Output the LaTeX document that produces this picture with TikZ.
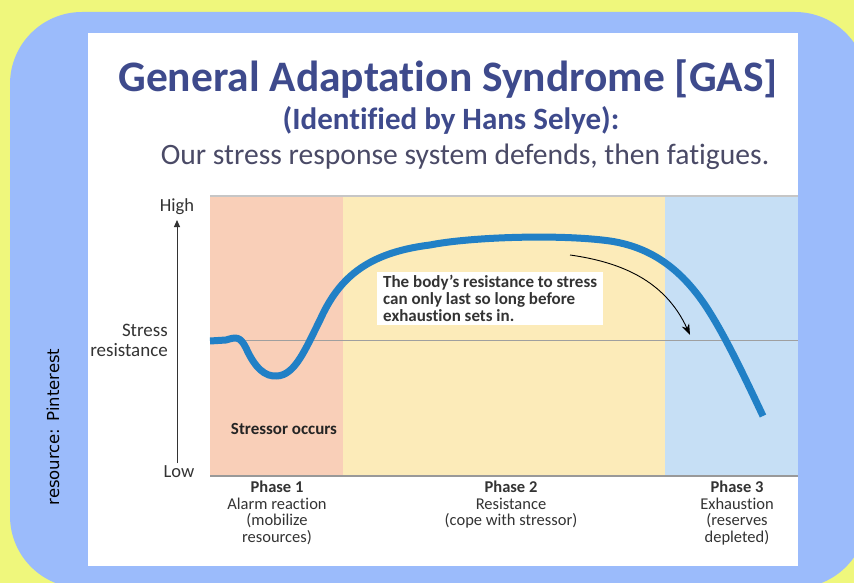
\documentclass[tikz,border=0pt]{standalone}
\usepackage{fontspec}
\setmainfont{Carlito}[Ligatures={NoCommon}]
\newfontfamily\srcfont{DejaVu Sans}
\usetikzlibrary{arrows.meta}
\definecolor{bgyellow}{HTML}{EFF77C}
\definecolor{bgblue}{HTML}{9BBBFB}
\definecolor{phpink}{HTML}{F9CFB8}
\definecolor{phyellow}{HTML}{FCEBB9}
\definecolor{phblue}{HTML}{C6DFF5}
\definecolor{curveblue}{HTML}{2180C6}
\definecolor{titleblue}{HTML}{3E4A8C}
\definecolor{subgray}{HTML}{4A4A66}
\definecolor{txtgray}{HTML}{333333}
\tikzset{
  title/.style={font=\bfseries\fontsize{43.5}{46}\selectfont, text=titleblue, inner sep=0pt},
  subtitle/.style={font=\bfseries\fontsize{31}{33}\selectfont, text=titleblue, inner sep=0pt},
  tagline/.style={font=\fontsize{29.6}{31}\selectfont, text=subgray, inner sep=0pt},
  axislbl/.style={font=\fontsize{18.5}{20}\selectfont, text=txtgray, inner sep=0pt},
  phaselbl/.style={font=\fontsize{16.5}{16.6}\selectfont, text=txtgray, align=center, inner sep=0pt, anchor=north},
  notebox/.style={fill=white, font=\bfseries\fontsize{17}{17}\selectfont, text=txtgray, align=left, inner xsep=6pt, inner ysep=3pt},
}
\begin{document}
\begin{tikzpicture}[x=1pt,y=-1pt]
\useasboundingbox (0,0) rectangle (854,583);
\clip (0,0) rectangle (854,583);
\fill[bgyellow] (0,0) rectangle (854,583);
\fill[bgblue, rounded corners=72pt] (10,12) rectangle (867,588);
\fill[white] (88,33) rectangle (798,566);
% phases
\fill[phpink] (210,196) rectangle (343,476);
\fill[phyellow] (343,196) rectangle (665,476);
\fill[phblue] (665,196) rectangle (798,476);
\draw[gray!45, line width=1.2pt] (210,196) -- (798,196);
\draw[gray!80, line width=1.8pt] (210,476) -- (798,476);
\draw[gray!75, line width=0.8pt] (210,340) -- (798,340);
% titles
\node[title] (t1) at (448,79) {General Adaptation Syndrome [GAS]};
\node[subtitle] (t2) at (451,120) {(Identified by Hans Selye):};
\node[tagline] (t3) at (465,157) {Our stress response system defends, then fatigues.};
% axis
\node[axislbl] (high) at (177,207) {High};
\node[axislbl] (low) at (179,472) {Low};
\node[axislbl, align=right, anchor=east, font=\fontsize{19}{20}\selectfont] (sr) at (168,340) {Stress\\resistance};
\coordinate (ybot) at (177,463);
\coordinate (ytop) at (177,220);
\draw[txtgray, line width=1pt, -{Triangle[length=7pt,width=6pt]}] (ybot) -- (ytop);
% curve
\draw[curveblue, line width=7pt, line cap=butt, line join=round]
  (210,341) -- (226,340)
  .. controls (236,337) and (240,336) .. (246,348)
  .. controls (255,368) and (265,377) .. (277,376)
  .. controls (295,375) and (305,350) .. (320,320)
  .. controls (338,280) and (365,253) .. (430,245)
  .. controls (470,237) and (560,234) .. (610,241)
  .. controls (650,247) and (680,268) .. (705,305)
  .. controls (725,335) and (745,378) .. (763,416);
% note
\node[notebox, anchor=north west] (note) at (377,272) {The body's resistance to stress\\can only last so long before\\exhaustion sets in.};
\coordinate (a1) at (570,255);
\coordinate (a2) at (690,335);
\draw[black, line width=0.9pt, -{Stealth[length=11pt,width=8pt]}] (a1) .. controls (620,262) and (665,280) .. (a2);
% stressor
\node[font=\bfseries\fontsize{17}{17}\selectfont, text=txtgray!70!black, inner sep=0pt] (so) at (284,429) {Stressor occurs};
% phase labels
\node[phaselbl] (p1) at (277,481) {\textbf{Phase 1}\\Alarm reaction\\(mobilize\\resources)};
\node[phaselbl] (p2) at (511,481) {\textbf{Phase 2}\\Resistance\\(cope with stressor)};
\node[phaselbl] (p3) at (737,481) {\textbf{Phase 3}\\Exhaustion\\(reserves\\depleted)};
% source
\node[font=\srcfont\fontsize{16.5}{16.5}\selectfont, rotate=90, inner sep=0pt] (src) at (53,427) {resource: Pinterest};
\end{tikzpicture}
\end{document}
